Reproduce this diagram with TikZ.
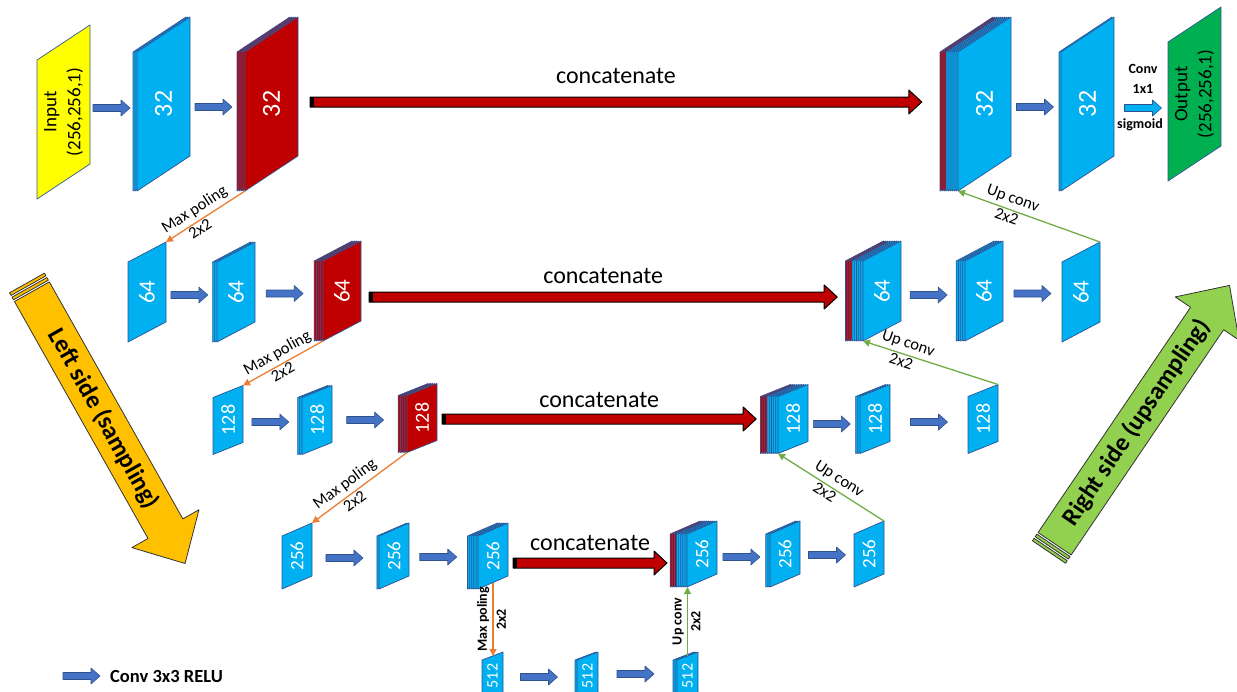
\documentclass[tikz,border=0pt]{standalone}
\usepackage{fontspec}
\setmainfont{Carlito}
\usetikzlibrary{arrows.meta,calc,positioning}
\definecolor{mapblue}{HTML}{00B0F0}
\definecolor{mapred}{HTML}{C00000}
\definecolor{mapedge}{HTML}{2F5597}
\definecolor{inyellow}{HTML}{FFFF00}
\definecolor{outgreen}{HTML}{00B050}
\definecolor{convfill}{HTML}{4472C4}
\definecolor{convedge}{HTML}{2F528F}
\definecolor{poolorange}{HTML}{ED7D31}
\definecolor{upgreen}{HTML}{70AD47}
\definecolor{leftgold}{HTML}{FFC000}
\definecolor{rightgreen}{HTML}{92D050}
\tikzset{
  every picture/.style={line join=round, >=Stealth},
  layer/.style={draw=mapedge, line width=0.7pt},
  blueface/.style={fill=mapblue},
  redface/.style={fill=mapred},
  yellowface/.style={fill=inyellow},
  greenface/.style={fill=outgreen},
  bluetext/.style={text=white},
  redtext/.style={text=white},
  yellowtext/.style={text=black, font=\fontsize{19}{24}\selectfont},
  greentext/.style={text=black, font=\fontsize{19}{24}\selectfont},
  maplabel/.style={rotate=90, inner sep=0pt, align=center},
  map font/.style={font=\fontsize{26}{26}\selectfont},
  pool/.style={draw=poolorange, line width=1.3pt, -{Triangle[length=7pt,width=7pt]}},
  upconv/.style={draw=upgreen, line width=1.3pt, -{Triangle[length=7pt,width=7pt]}},
  edgelbl/.style={font=\fontsize{16.5}{16.5}\selectfont, inner sep=3.5pt},
  twolbl/.style={font=\fontsize{16.5}{16.5}\selectfont, inner sep=1.5pt},
  vlbl/.style={font=\bfseries\fontsize{14}{14}\selectfont, inner sep=3pt},
  concat/.style={fill=mapred, draw=black, line width=1pt},
  concattext/.style={font=\fontsize{24}{24}\selectfont, inner sep=0pt},
  bigarrow/.style={draw=black!80, line width=0.8pt},
  sidelbl/.style={font=\bfseries\fontsize{25}{25}\selectfont},
  smalllbl/.style={font=\bfseries\fontsize{14}{14}\selectfont, inner sep=0pt},
}
% size of the maps in one row: width, height, slant, layer step, font size
\newcommand{\setrow}[5]{\def\fmw{#1}\def\fmh{#2}\def\fms{#3}\def\fmd{#4}%
  \tikzset{map font/.style={font=\fontsize{#5}{#5}\selectfont}}}
% feature map: name, x of front face, centre y, red layers, blue layers, kind, label
\newcommand{\fmap}[7]{%
  \pgfmathtruncatemacro{\nall}{#4+#5}%
  \ifnum\nall>0
    \foreach \i in {\nall,...,1}{%
      \pgfmathsetmacro{\lx}{#2-\i*\fmd}%
      \ifnum\i>#5\relax\def\lk{redface}\else\def\lk{blueface}\fi
      \filldraw[layer,\lk] (\lx,#3+\fms/2-\fmh/2) -- ++(\fmw,-\fms) -- ++(0,\fmh) -- ++(-\fmw,\fms) -- cycle;
    }%
  \fi
  \filldraw[layer,#6face] (#2,#3+\fms/2-\fmh/2) coordinate (#1-tl) -- ++(\fmw,-\fms) coordinate (#1-tr)
    -- ++(0,\fmh) coordinate (#1-br) -- ++(-\fmw,\fms) coordinate (#1-bl) -- cycle;
  \coordinate (#1-top) at ($(#1-tl)!0.5!(#1-tr)$);
  \coordinate (#1-bot) at ($(#1-bl)!0.5!(#1-br)$);
  \pgfmathsetmacro{\bw}{\fmw+\nall*\fmd}%
  \pgfmathsetmacro{\bx}{#2+\fmw/2-\nall*\fmd/2}%
  \node[inner sep=0pt, minimum width=\bw pt, minimum height=\fmh pt] (#1) at (\bx,#3) {};
  \node[maplabel, map font, #6text] (#1-t) at ($(#1-tl)!0.5!(#1-br)$) {#7};
}
% conv arrow centred on a point
\newcommand{\convarr}[2][convfill]{%
  \coordinate (cm) at #2;
  \filldraw[fill=#1, draw=convedge, line width=0.6pt] (cm) ++(-18.5,-3.5) -- ++(28,0) -- ++(0,-4.5)
    -- ++(9,8) -- ++(-9,8) -- ++(0,-4.5) -- ++(-28,0) -- cycle;
}
% concatenate arrow: from, to, raise of the text
\newcommand{\concatarr}[3]{%
  \coordinate (ca) at #1; \coordinate (ct) at #2; \coordinate (cb) at (ca -| ct);
  \filldraw[concat] ($(ca)+(0,-5)$) -- ($(cb)+(-13,-5)$) -- ($(cb)+(-13,-12)$) -- (cb)
    -- ($(cb)+(-13,12)$) -- ($(cb)+(-13,5)$) -- ($(ca)+(0,5)$) -- cycle;
  \fill[black] ($(ca)+(0,-5)$) rectangle ($(ca)+(4,5)$);
  \path (ca) -- (cb) node[concattext, midway, above=#3pt] {concatenate};
}

\begin{document}
\begin{tikzpicture}[x=1pt, y=-1pt]
\useasboundingbox (0,0) rectangle (1237,691);
\clip (0,0) rectangle (1237,691);

% big side arrows
\begin{scope}[shift={(27,283)}, rotate=-60.6]
  \filldraw[bigarrow, fill=leftgold] (0,-20) rectangle (3,20);
  \filldraw[bigarrow, fill=leftgold] (5,-20) rectangle (8,20);
  \filldraw[bigarrow, fill=leftgold] (10,-20) -- (282,-20) -- (282,-38.5) -- (322,0)
    -- (282,38.5) -- (282,20) -- (10,20) -- cycle;
  \node[sidelbl, rotate=-60.6] (lside) at (156,0) {Left side (sampling)};
\end{scope}
\begin{scope}[shift={(1049,552)}, rotate=55.9]
  \filldraw[bigarrow, fill=rightgreen] (0,-20) rectangle (3,20);
  \filldraw[bigarrow, fill=rightgreen] (5,-20) rectangle (8,20);
  \filldraw[bigarrow, fill=rightgreen] (10,-20) -- (282,-20) -- (282,-38.5) -- (322,0)
    -- (282,38.5) -- (282,20) -- (10,20) -- cycle;
  \node[sidelbl, rotate=55.9] (rside) at (156,0) {Right side (upsampling)};
\end{scope}

% row 1
\setrow{53}{139}{35}{2}{26}
\fmap{in}{37}{112}{0}{0}{yellow}{Input\\(256,256,1)}
\fmap{c1a}{137}{104}{0}{2}{blue}{32}
\fmap{c1b}{245}{104}{4}{0}{red}{32}
\fmap{u1a}{958}{104}{3}{6}{blue}{32}
\fmap{u1b}{1061}{104}{0}{1}{blue}{32}
\fmap{out}{1168}{94}{0}{0}{green}{Output\\(256,256,1)}
% row 2
\setrow{38}{80}{20}{2.2}{23}
\fmap{d2a}{128}{292}{0}{0}{blue}{64}
\fmap{d2b}{217}{292}{0}{2}{blue}{64}
\fmap{d2c}{323}{291}{4}{0}{red}{64}
\fmap{u2a}{863}{291}{3}{5}{blue}{64}
\fmap{u2b}{965}{291}{0}{4}{blue}{64}
\fmap{u2c}{1062}{292}{0}{0}{blue}{64}
% row 3
\setrow{30}{57}{12}{2.2}{20}
\fmap{d3a}{213}{420}{0}{0}{blue}{128}
\fmap{d3b}{302}{420}{0}{2}{blue}{128}
\fmap{d3c}{407}{418}{4}{0}{red}{128}
\fmap{u3a}{778}{419}{3}{5}{blue}{128}
\fmap{u3b}{860}{419}{0}{2}{blue}{128}
\fmap{u3c}{968}{419}{0}{0}{blue}{128}
% row 4
\setrow{30}{53}{13}{2.1}{19}
\fmap{d4a}{282}{556}{0}{0}{blue}{256}
\fmap{d4b}{379}{556}{0}{1}{blue}{256}
\fmap{d4c}{478}{556}{0}{5}{blue}{256}
\fmap{u4a}{687}{554}{3}{5}{blue}{256}
\fmap{u4b}{770}{554}{0}{2}{blue}{256}
\fmap{u4c}{854}{554}{0}{0}{blue}{256}
% row 5
\setrow{21}{40}{8}{2}{16}
\fmap{b5a}{482}{676}{0}{0}{blue}{512}
\fmap{b5b}{577}{676}{0}{1}{blue}{512}
\fmap{b5c}{677}{676}{0}{2}{blue}{512}

% conv 3x3 arrows
\convarr{($(in.east)!0.5!(c1a.west)+(0,0)$)}
\convarr{($(c1a.east)!0.5!(c1b.west)+(0,3)$)}
\convarr{($(u1a.east)!0.5!(u1b.west)+(0,3)$)}
\convarr{($(d2a.east)!0.5!(d2b.west)+(0,3)$)}
\convarr{($(d2b.east)!0.5!(d2c.west)+(0,2)$)}
\convarr{($(u2a.east)!0.5!(u2b.west)+(0,4)$)}
\convarr{($(u2b.east)!0.5!(u2c.west)+(0,2)$)}
\convarr{($(d3a.east)!0.5!(d3b.west)+(0,2)$)}
\convarr{($(d3b.east)!0.5!(d3c.west)+(0,1)$)}
\convarr{($(u3a.east)!0.5!(u3b.west)+(0,5)$)}
\convarr{($(u3b.east)!0.5!(u3c.west)+(0,3)$)}
\convarr{($(d4a.east)!0.5!(d4b.west)+(0,2)$)}
\convarr{($(d4b.east)!0.5!(d4c.west)+(0,1)$)}
\convarr{($(u4a.east)!0.5!(u4b.west)+(0,3)$)}
\convarr{($(u4b.east)!0.5!(u4c.west)+(0,1)$)}
\convarr{($(b5a.east)!0.5!(b5b.west)+(0,1)$)}
\convarr{($(b5b.east)!0.5!(b5c.west)+(0,-2)$)}

% conv 1x1
\convarr[mapblue]{($(u1b.east)!0.5!(out.west)+(2,9)$)}
\path (cm) ++(0,-19) node[smalllbl] (k1) {1x1} ++(0,-20) node[smalllbl] (k0) {Conv};
\path (cm) ++(-3,17) node[smalllbl] (k2) {sigmoid};

% skip connections
\concatarr{($(c1b.east)+(12,-2)$)}{($(u1a.west)+(-18,0)$)}{18}
\concatarr{($(d2c.east)+(8,6)$)}{($(u2a.west)+(-8,0)$)}{13}
\concatarr{($(d3c.east)+(5,1)$)}{($(u3a.west)+(-4,0)$)}{11}
\concatarr{($(d4c.east)+(5,7)$)}{($(u4a.west)+(-3,0)$)}{12}

% pooling
\draw[pool] (c1b-bl) -- (d2a-tr) node[edgelbl, pos=0.56, sloped, above] {Max poling}
  node[twolbl, pos=0.62, sloped, below] {2x2};
\draw[pool] (d2c-bl) -- (d3a-tr) node[edgelbl, pos=0.5, sloped, above] {Max poling}
  node[twolbl, pos=0.55, sloped, below] {2x2};
\draw[pool] (d3c-bl) -- (d4a-tr) node[edgelbl, pos=0.58, sloped, above] {Max poling}
  node[twolbl, pos=0.6, sloped, below] {2x2};
\draw[pool] (d4c-bot) -- (d4c-bot |- b5a-top)
  node[vlbl, midway, rotate=90, anchor=south] {Max poling}
  node[vlbl, midway, rotate=90, anchor=north] {2x2};

% up convolution
\draw[upconv] (u2c-tr) -- (u1a-bl) node[edgelbl, pos=0.64, sloped, above] {Up conv}
  node[twolbl, pos=0.64, sloped, below] {2x2};
\draw[upconv] (u3c-tr) -- (u2a-bl) node[edgelbl, pos=0.69, sloped, above] {Up conv}
  node[twolbl, pos=0.7, sloped, below] {2x2};
\draw[upconv] (u4c-tr) -- (u3a-bl) node[edgelbl, pos=0.48, sloped, above] {Up conv}
  node[twolbl, pos=0.52, sloped, below] {2x2};
\draw[upconv] (b5c-top) -- (b5c-top |- u4a-bl)
  node[vlbl, midway, rotate=90, anchor=south] {Up conv}
  node[vlbl, midway, rotate=90, anchor=north] {2x2};

% legend
\node[font=\bfseries\fontsize{18.5}{18.5}\selectfont, anchor=west, inner sep=0pt] (lgt) at (110,676) {Conv 3x3 RELU};
\convarr{($(lgt.west)+(-28.5,0)$)}
\end{tikzpicture}
\end{document}
